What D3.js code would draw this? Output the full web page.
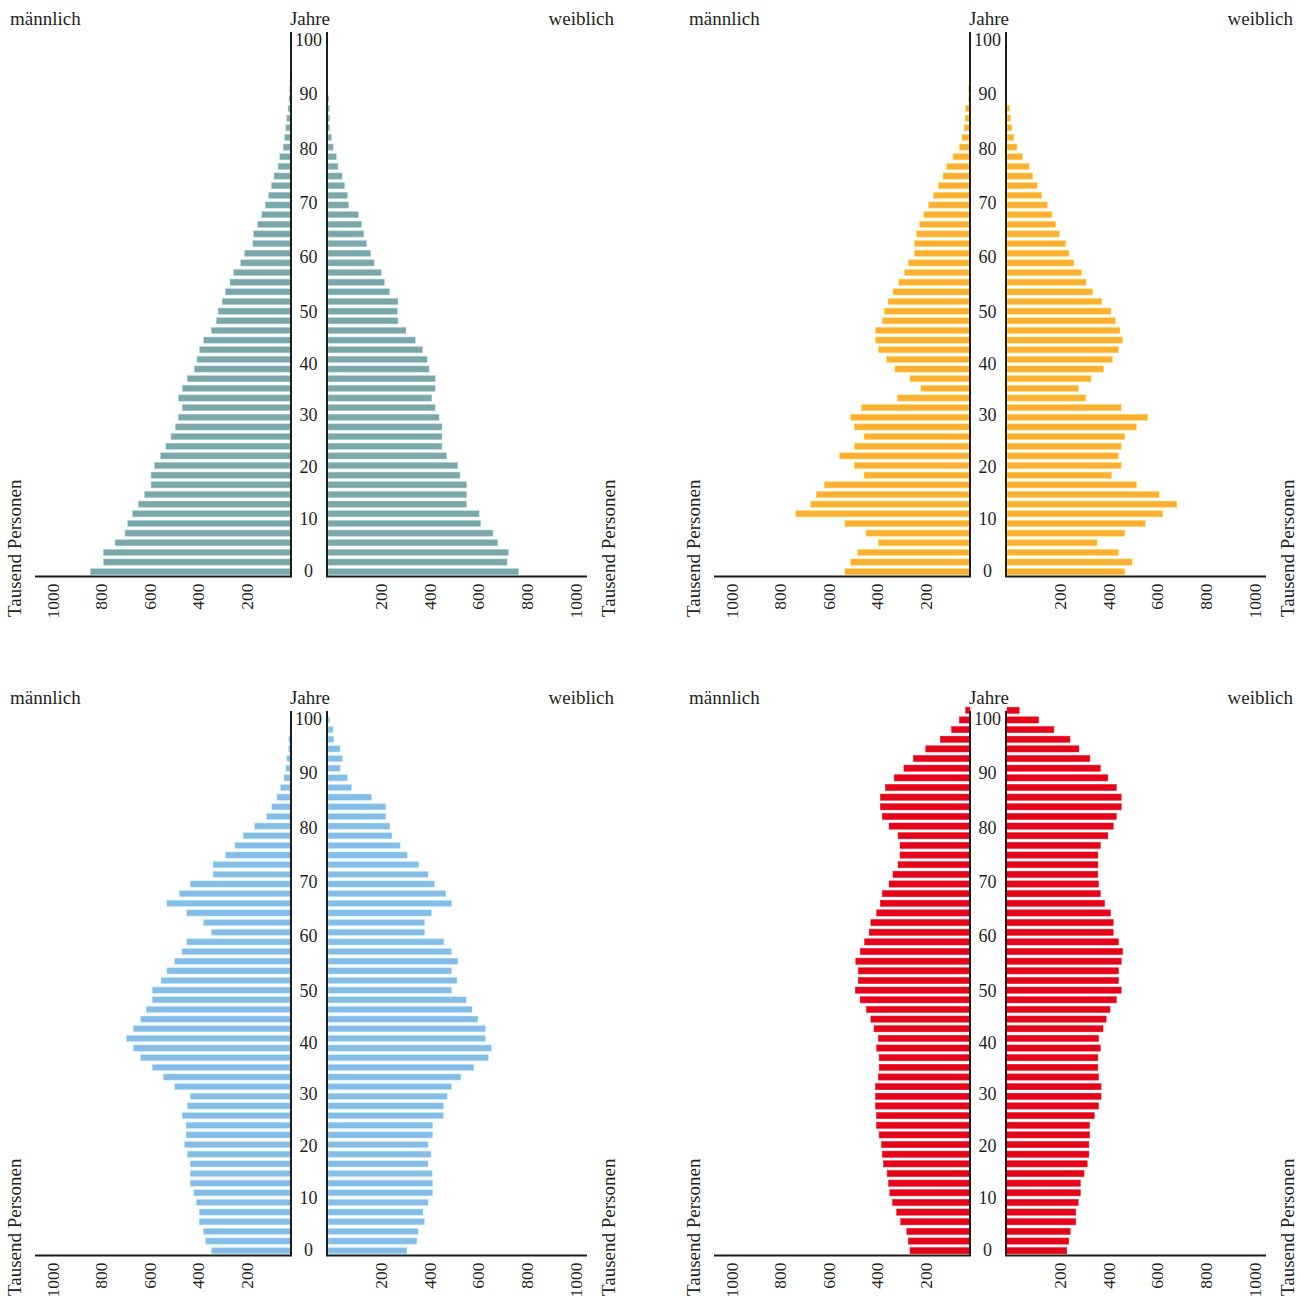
<!DOCTYPE html>
<html>
<head>
<meta charset="utf-8">
<script src="https://cdn.jsdelivr.net/npm/d3@7"></script>
<style>
  body { margin: 0; background: #fff; }
  text { font-family: "Liberation Serif", "Times New Roman", serif; fill: #231f20; }
</style>
</head>
<body>
<svg id="canvas" width="1303" height="1297"></svg>
<script>
// ************************************************************************************** //
// Data (thousand persons per age group, index 0 = youngest group at the bottom)

var ageTicks = [0, 10, 20, 30, 40, 50, 60, 70, 80, 90, 100];
var valueTicks = [200, 400, 600, 800, 1000];

var male1 = [825,772,772,724,683,672,652,628,603,576, 576,562,537,515,494,476,463,447,463,447,
             427,398,387,376,359,328,307,300,283,270, 251,236,207,191,157,154,137,120,106,92,
             80,70,53,46,32,26,21,17,12,8, 5,4,0,0,0,0,0];
var female1 = [784,737,742,698,679,628,622,570,570,570, 543,534,488,469,469,469,457,441,427,441,
               441,416,408,389,359,321,288,285,288,253, 232,219,190,176,159,147,138,125,85,80,
               68,58,41,34,21,14,7,7,5,3, 0,0,0,0,0,0,0];

var male2 = [515,491,463,377,428,515,717,657,633,600, 436,476,538,476,436,476,491,447,299,202,
             247,309,343,377,389,389,361,353,337,317, 293,270,254,229,229,220,207,190,171,150,
             130,111,96,70,44,33,24,20,18,6, 6,0,0,0,0,0,0];
var female2 = [485,515,459,371,485,569,641,699,626,533, 431,470,459,470,485,533,579,470,324,294,
               346,398,434,459,476,465,446,428,390,353, 325,306,275,255,242,215,200,185,166,143,
               124,106,91,63,41,28,20,15,11,0, 0,0,0,0,0,0,0];

var male3 = [328,352,361,378,378,390,400,415,415,415, 427,439,432,432,448,427,415,479,526,571,
             619,649,678,649,619,596,571,571,535,511, 479,449,429,328,361,429,511,460,415,321,
             321,270,231,197,150,101,79,58,43,29, 21,17,10,9,5,0,0];
var female3 = [325,366,371,397,391,412,431,431,429,412, 424,412,431,431,475,475,490,508,547,600,
               660,673,648,648,617,593,569,509,531,509, 535,509,477,398,398,426,509,485,438,412,
               374,326,297,263,255,238,238,179,97,80, 50,60,50,24,21,7,0];

var male4 = [247,254,260,285,302,319,330,335,341,356, 361,364,374,385,385,389,389,389,377,374,
             374,384,377,395,408,426,452,472,460,460, 470,452,434,415,408,384,369,361,333,317,
             296,288,288,296,333,361,369,369,348,312, 272,233,182,122,76,44,18];
var female4 = [246,254,260,283,283,293,302,302,317,330, 337,337,340,340,359,377,387,387,377,374,
               374,384,377,395,408,424,450,470,459,459, 470,476,459,437,437,426,402,384,377,374,
               374,374,384,415,437,450,470,470,450,415, 384,341,296,259,193,130,50];

// ************************************************************************************** //
// Layout

var pyramid = {};
pyramid.axisL = 291;      // inner edge of the male half
pyramid.axisR = 327;      // inner edge of the female half
pyramid.base = 575.5;     // y of the zero line
pyramid.top = 32;         // top of the vertical axis lines
pyramid.barH = 6.2;
pyramid.step = 9.65;      // distance between two age groups

pyramid.panels = [
  { male: male1, female: female1, color: '#7ba6aa', dx: 0,   dy: 0 },
  { male: male2, female: female2, color: '#fbb035', dx: 679, dy: 0 },
  { male: male3, female: female3, color: '#86bce6', dx: 0,   dy: 679 },
  { male: male4, female: female4, color: '#e3061b', dx: 679, dy: 679 }
];

var svg = d3.select('#canvas');

// ************************************************************************************** //
// Draw one pyramid

pyramid.draw = function(p) {
  var g = svg.append('g').attr('transform', 'translate(' + p.dx + ',' + p.dy + ')');

  var xL = d3.scaleLinear().domain([0, 1000]).range([pyramid.axisL, 48]);
  var xR = d3.scaleLinear().domain([0, 1000]).range([pyramid.axisR + 1, 571]);
  var yBar = d3.scaleLinear().domain([0, 1]).range([pyramid.base - 0.7, pyramid.base - 0.7 - pyramid.step]);
  var yAge = d3.scaleLinear().domain([0, 50, 100]).range([570, 311, 39]);

  var light = d3.color(p.color).brighter(0.7);

  // bars
  g.append('g').selectAll('rect').data(p.male).enter().append('rect')
    .filter(function(d) { return d > 0; })
    .attr('x', function(d) { return xL(d); })
    .attr('width', function(d) { return xL(0) - xL(d); })
    .attr('y', function(d, i) { return yBar(i) - pyramid.barH; })
    .attr('height', pyramid.barH)
    .attr('fill', p.color).attr('stroke', light).attr('stroke-width', 0.5);

  g.append('g').selectAll('rect').data(p.female).enter().append('rect')
    .filter(function(d) { return d > 0; })
    .attr('x', xR(0))
    .attr('width', function(d) { return xR(d) - xR(0); })
    .attr('y', function(d, i) { return yBar(i) - pyramid.barH; })
    .attr('height', pyramid.barH)
    .attr('fill', p.color).attr('stroke', light).attr('stroke-width', 0.5);

  // axis lines
  var line = g.append('g').attr('stroke', '#1d1d1b').attr('stroke-width', 2).attr('fill', 'none');
  line.append('path').attr('d', 'M' + pyramid.axisL + ',' + pyramid.top + 'V' + (pyramid.base + 1) + 'H35');
  line.append('path').attr('d', 'M' + pyramid.axisR + ',' + pyramid.top + 'V' + (pyramid.base + 1) + 'H587');

  // value labels, rotated
  [xL, xR].forEach(function(x) {
    var ax = g.append('g').attr('transform', 'translate(0,' + pyramid.base + ')')
      .call(d3.axisBottom(x).tickValues(valueTicks).tickSize(0).tickFormat(d3.format('d')));
    ax.select('.domain').remove();
    ax.selectAll('text')
      .attr('transform', 'rotate(-90)')
      .attr('text-anchor', 'end')
      .attr('x', -8).attr('y', 10).attr('dy', 0)
      .style('font-size', '17.5px')
      .style('font-family', '"Liberation Serif", serif')
      .attr('fill', '#231f20');
  });

  // age labels
  var ay = g.append('g').attr('transform', 'translate(' + ((pyramid.axisL + pyramid.axisR) / 2 - 0.5) + ',0)')
    .call(d3.axisRight(yAge).tickValues(ageTicks).tickSize(0));
  ay.select('.domain').remove();
  ay.selectAll('text')
    .attr('x', 0).attr('dy', '0.35em')
    .attr('text-anchor', 'middle')
    .style('font-size', '18px')
    .style('font-family', '"Liberation Serif", serif')
    .attr('fill', '#231f20');

  // titles
  g.append('text').attr('x', 10).attr('y', 25).style('font-size', '19px').text('männlich');
  g.append('text').attr('x', 310).attr('y', 25).attr('text-anchor', 'middle').style('font-size', '19px').text('Jahre');
  g.append('text').attr('x', 614).attr('y', 25).attr('text-anchor', 'end').style('font-size', '19px').text('weiblich');

  [21, 614.5].forEach(function(tx) {
    g.append('text')
      .attr('transform', 'translate(' + tx + ',617) rotate(-90)')
      .style('font-size', '19px')
      .text('Tausend Personen');
  });
};

pyramid.panels.forEach(pyramid.draw);
</script>
</body>
</html>
